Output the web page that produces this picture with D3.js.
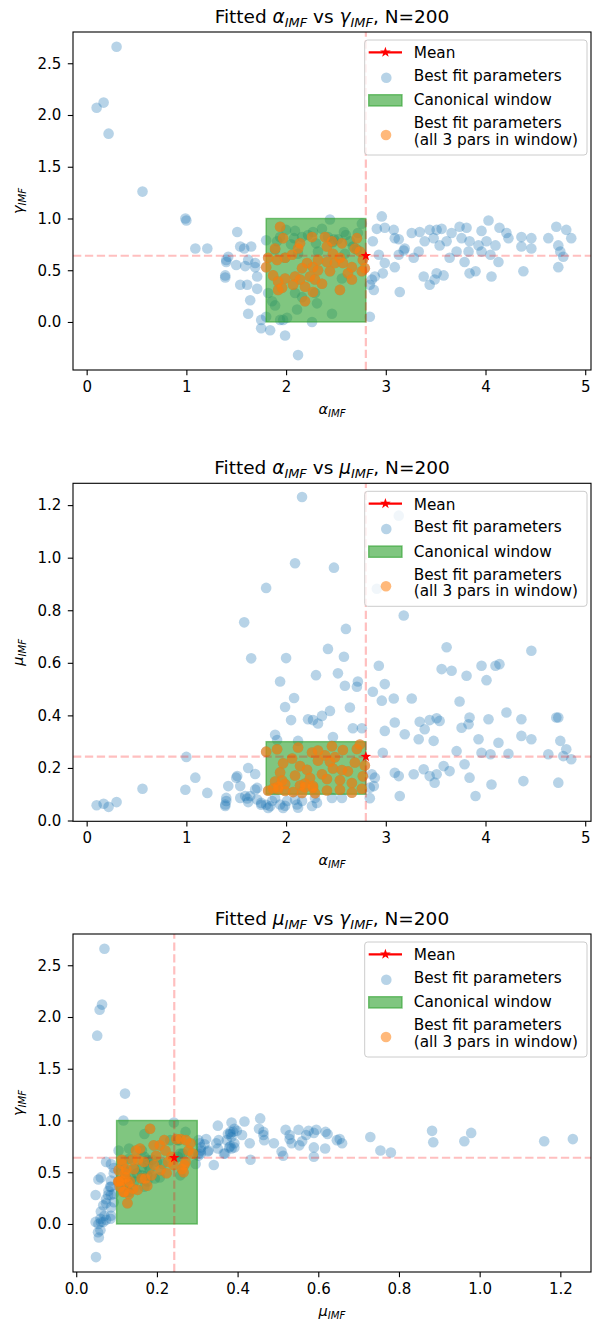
<!DOCTYPE html>
<html>
<head>
<meta charset="utf-8">
<script src="https://cdn.jsdelivr.net/npm/d3@7"></script>
<style>
  body { margin: 0; background: #ffffff; }
  svg { display: block; }
  text { font-family: "DejaVu Sans", sans-serif; fill: #000; }
</style>
</head>
<body>
<svg id="chart" width="592" height="1324"></svg>
<script>
// ---- Fitted IMF parameters, one entry per fit (N = 200) ----
const alphaIMF = [
  // low-alpha fits
  0.10, 0.17, 0.22, 0.30, 0.56, 0.99, 1.00, 1.09, 1.21,
  // alpha 1.4 - 1.8
  1.51, 1.54, 1.58, 1.65, 1.42, 1.40, 1.50, 1.59, 1.69, 1.62,
  1.39, 1.39, 1.71, 1.54, 1.61, 1.71, 1.64, 1.62, 1.75, 1.75,
  1.69, 1.40, 1.80,
  // alpha in window, mu below 0.1
  1.84, 1.99, 2.12, 1.86, 1.89, 1.94, 1.97, 2.11, 2.26, 2.31,
  2.46, 2.29, 2.09, 1.82, 2.16, 2.01, 1.80, 2.56,
  // alpha in window, mu above 0.3
  2.00, 2.42, 2.58, 2.30, 2.52, 1.94, 2.59, 2.72, 2.71, 2.08,
  1.99, 2.64, 2.44, 2.36, 2.05, 2.22, 2.27, 2.32, 2.67, 2.76,
  1.89, 2.47, 2.12, 1.91, 2.16, 2.09, 2.48, 2.60,
  // all three parameters in window
  1.94, 1.97, 1.89, 1.82, 1.80, 1.91, 1.99, 2.06, 1.87, 1.92,
  1.99, 1.92, 1.96, 2.09, 2.14, 2.07, 2.19, 2.12, 2.14, 2.21,
  2.26, 2.27, 2.32, 2.24, 2.29, 2.36, 2.27, 2.19, 2.39, 2.41,
  2.46, 2.47, 2.41, 2.49, 2.54, 2.57, 2.54, 2.62, 2.66, 2.66,
  2.71, 2.69, 2.74, 2.77, 2.76, 2.79, 2.44, 2.32, 2.16, 2.56,
  // alpha above 2.8
  2.84, 2.84, 2.86, 2.88, 2.89, 2.91, 2.93, 2.96, 2.97, 2.99,
  2.99, 2.87, 3.08, 3.09, 3.09, 3.13, 3.14, 3.18, 3.19, 3.13,
  3.26, 3.28, 3.33, 3.34, 3.38, 3.39, 3.44, 3.44, 3.48, 3.49,
  3.51, 3.51, 3.54, 3.56, 3.58, 3.61, 3.64, 3.66, 3.71, 3.74,
  3.76, 3.79, 3.81, 3.83, 3.84, 3.84, 3.90, 3.93, 3.96, 3.96,
  4.01, 4.03, 4.05, 4.06, 4.10, 4.13, 4.14, 4.21, 4.23, 4.36,
  4.36, 4.38, 4.46, 4.46, 4.63, 4.71, 4.73, 4.73, 4.75, 4.78,
  4.81, 4.86
];

const gammaIMF = [
  2.07, 2.12, 1.82, 2.66, 1.26, 1.00, 0.98, 0.71, 0.71,

  0.87, 0.73, 0.71, 0.73, 0.63, 0.58, 0.55, 0.54, 0.53, 0.60,
  0.45, 0.43, 0.44, 0.36, 0.36, 0.32, 0.21, 0.08, 0.02, -0.06,
  0.57, 0.60, 0.79,

  -0.08, -0.13, -0.32, 0.20, 0.16, 0.02, 0.02, 0.12, 0.00, 0.18,
  0.08, 0.28, 0.28, 0.28, 0.24, 0.04, 0.05, 0.42,

  0.89, 0.82, 0.87, 0.76, 0.80, 0.82, 0.66, 0.86, 0.70, 0.81,
  0.62, 0.78, 0.99, 0.90, 0.75, 0.84, 0.87, 0.68, 0.73, 0.95,
  0.70, 0.77, 0.66, 0.78, 0.82, 0.88, 0.80, 0.84,

  0.92, 0.81, 0.71, 0.62, 0.53, 0.60, 0.62, 0.65, 0.45, 0.39,
  0.42, 0.31, 0.33, 0.44, 0.41, 0.36, 0.34, 0.71, 0.76, 0.57,
  0.82, 0.53, 0.60, 0.44, 0.41, 0.37, 0.29, 0.20, 0.82, 0.73,
  0.78, 0.66, 0.58, 0.57, 0.62, 0.57, 0.31, 0.47, 0.53, 0.41,
  0.81, 0.71, 0.68, 0.60, 0.49, 0.52, 0.49, 0.50, 0.52, 0.76,

  0.05, 0.36, 0.41, 0.31, 0.44, 0.90, 0.65, 1.02, 0.47, 0.91,
  0.57, 0.78, 0.89, 0.81, 0.53, 0.65, 0.29, 0.69, 0.71, 0.80,
  0.86, 0.62, 0.68, 0.87, 0.44, 0.78, 0.36, 0.89, 0.81, 0.41,
  0.89, 0.47, 0.74, 0.90, 0.45, 0.78, 0.62, 0.86, 0.68, 0.92,
  0.81, 0.58, 0.91, 0.68, 0.78, 0.47, 0.49, 0.74, 0.88, 0.68,
  0.78, 0.98, 0.65, 0.44, 0.74, 0.58, 0.91, 0.86, 0.81, 0.73,
  0.82, 0.49, 0.81, 0.71, 0.81, 0.92, 0.74, 0.53, 0.68, 0.63,
  0.89, 0.81
];

const muIMF = [
  0.058, 0.064, 0.052, 0.070, 0.121, 0.117, 0.242, 0.163, 0.105,

  0.169, 0.131, 0.754, 0.617, 0.131, 0.086, 0.163, 0.093, 0.118, 0.200,
  0.061, 0.055, 0.124, 0.086, 0.084, 0.080, 0.093, 0.070, 0.067, 0.060,
  0.177, 0.074, 0.885,

  0.054, 0.056, 0.049, 0.074, 0.086, 0.061, 0.048, 0.061, 0.055, 0.067,
  0.086, 0.086, 0.079, 0.048, 0.074, 0.074, 0.060, 0.086,

  0.618, 0.653, 0.623, 0.553, 0.560, 0.529, 0.513, 0.529, 0.509, 0.466,
  0.432, 0.430, 0.417, 0.398, 0.382, 0.385, 0.382, 0.369, 0.351, 0.351,
  0.326, 0.318, 0.303, 0.306, 1.231, 0.979, 0.962, 0.729,

  0.183, 0.218, 0.148, 0.113, 0.262, 0.271, 0.139, 0.236, 0.122, 0.128,
  0.112, 0.119, 0.152, 0.171, 0.133, 0.108, 0.141, 0.278, 0.207, 0.193,
  0.259, 0.124, 0.228, 0.162, 0.104, 0.176, 0.131, 0.127, 0.248, 0.158,
  0.283, 0.198, 0.114, 0.241, 0.153, 0.268, 0.117, 0.187, 0.143, 0.106,
  0.272, 0.221, 0.289, 0.168, 0.121, 0.209, 0.224, 0.266, 0.105, 0.192,

  0.085, 0.125, 0.176, 0.131, 0.163, 0.882, 0.589, 0.456, 0.258, 0.519,
  0.341, 0.490, 0.464, 0.373, 0.182, 0.169, 0.093, 0.780, 0.328, 1.160,
  0.464, 0.176, 0.309, 0.376, 0.195, 0.347, 0.169, 0.382, 0.303, 0.144,
  0.389, 0.176, 0.379, 0.576, 0.207, 0.659, 0.188, 0.570, 0.264, 0.453,
  0.353, 0.214, 0.551, 0.366, 0.392, 0.163, 0.093, 0.309, 0.589, 0.258,
  0.534, 0.385, 0.252, 0.137, 0.589, 0.296, 0.595, 0.411, 0.254, 0.385,
  0.322, 0.150, 0.646, 0.309, 0.252, 0.392, 0.392, 0.144, 0.303, 0.245,
  0.271, 0.233
];

// Mean of the fits and the canonical parameter window
const meanAlpha = 2.80, meanGamma = 0.64, meanMu = 0.243;
const windowAlpha = [1.8, 2.8];
const windowGamma = [0.0, 1.0];
const windowMu = [0.1, 0.3];

// Axis limits and ticks
const alphaLimits = [-0.137, 5.058];
const gammaLimits = [-0.464, 2.802];
const muLimitsY = [-0.003, 1.283];
const muLimitsX = [-0.008, 1.276];
const alphaTicks = [0, 1, 2, 3, 4, 5];
const gammaTicks = [0.0, 0.5, 1.0, 1.5, 2.0, 2.5];
const muTicks = [0.0, 0.2, 0.4, 0.6, 0.8, 1.0, 1.2];

const sampleSize = 200;
const legendLabels = ["Mean", "Best fit parameters", "Canonical window",
                      "Best fit parameters", "(all 3 pars in window)"];

// ---- drawing ----
const svg = d3.select("#chart");
const C_BLUE = "#1f77b4", C_ORANGE = "#ff7f0e", C_GREEN = "#2ca02c";
const AX = { left: 73, right: 591, h: 338 };
const R_PT = 5.3;

const inWindow = d3.range(alphaIMF.length).filter(i =>
  alphaIMF[i] >= windowAlpha[0] && alphaIMF[i] <= windowAlpha[1] &&
  gammaIMF[i] >= windowGamma[0] && gammaIMF[i] <= windowGamma[1] &&
  muIMF[i] >= windowMu[0] && muIMF[i] <= windowMu[1]);

function starPath(R, r) {
  const pts = d3.range(10).map(k => {
    const a = -Math.PI / 2 + k * Math.PI / 5;
    const rad = k % 2 === 0 ? R : r;
    return [rad * Math.cos(a), rad * Math.sin(a)];
  });
  return "M" + pts.map(p => p[0].toFixed(2) + "," + p[1].toFixed(2)).join("L") + "Z";
}

// math-style label: roman text, italic symbols, italic subscripts
function mathText(sel, parts, size) {
  let down = false;
  parts.forEach(([t, kind]) => {
    const ts = sel.append("tspan").text(t);
    if (kind === "sub") {
      ts.attr("font-size", (size * 0.7).toFixed(2)).attr("font-style", "italic");
      if (!down) { ts.attr("dy", (size * 0.22).toFixed(2)); down = true; }
    } else {
      if (down) { ts.attr("dy", (-size * 0.22).toFixed(2)); down = false; }
      if (kind === "it") ts.attr("font-style", "italic");
    }
  });
}

const panels = [
  { top: 32, xv: alphaIMF, yv: gammaIMF, xDom: alphaLimits, yDom: gammaLimits,
    xTicks: alphaTicks, yTicks: gammaTicks, xFmt: d3.format("d"), yFmt: d3.format(".1f"),
    xSym: "α", ySym: "γ", xWin: windowAlpha, yWin: windowGamma, xMean: meanAlpha, yMean: meanGamma },
  { top: 483.3, xv: alphaIMF, yv: muIMF, xDom: alphaLimits, yDom: muLimitsY,
    xTicks: alphaTicks, yTicks: muTicks, xFmt: d3.format("d"), yFmt: d3.format(".1f"),
    xSym: "α", ySym: "μ", xWin: windowAlpha, yWin: windowMu, xMean: meanAlpha, yMean: meanMu },
  { top: 934, xv: muIMF, yv: gammaIMF, xDom: muLimitsX, yDom: gammaLimits,
    xTicks: muTicks, yTicks: gammaTicks, xFmt: d3.format(".1f"), yFmt: d3.format(".1f"),
    xSym: "μ", ySym: "γ", xWin: windowMu, yWin: windowGamma, xMean: meanMu, yMean: meanGamma }
];

panels.forEach((p, pi) => {
  const top = p.top, bottom = top + AX.h;
  const x = d3.scaleLinear().domain(p.xDom).range([AX.left, AX.right]);
  const y = d3.scaleLinear().domain(p.yDom).range([bottom, top]);
  const g = svg.append("g");

  const clipId = "clip" + pi;
  svg.append("clipPath").attr("id", clipId)
    .append("rect").attr("x", AX.left).attr("y", top)
    .attr("width", AX.right - AX.left).attr("height", AX.h);
  const plot = g.append("g").attr("clip-path", `url(#${clipId})`);

  // every fit
  plot.append("g").selectAll("circle").data(d3.range(p.xv.length)).join("circle")
    .attr("cx", i => x(p.xv[i])).attr("cy", i => y(p.yv[i])).attr("r", R_PT)
    .attr("fill", C_BLUE).attr("fill-opacity", 0.32);

  // canonical window
  plot.append("rect")
    .attr("x", x(p.xWin[0])).attr("y", y(p.yWin[1]))
    .attr("width", x(p.xWin[1]) - x(p.xWin[0]))
    .attr("height", y(p.yWin[0]) - y(p.yWin[1]))
    .attr("fill", C_GREEN).attr("fill-opacity", 0.6)
    .attr("stroke", C_GREEN).attr("stroke-opacity", 0.6).attr("stroke-width", 1.4);

  // fits with all three parameters inside the window
  plot.append("g").selectAll("circle").data(inWindow).join("circle")
    .attr("cx", i => x(p.xv[i])).attr("cy", i => y(p.yv[i])).attr("r", R_PT)
    .attr("fill", C_ORANGE).attr("fill-opacity", 0.65);

  // mean guide lines
  const dash = { stroke: "red", "stroke-opacity": 0.25, "stroke-width": 2.2, "stroke-dasharray": "8.3,3.6" };
  const vl = plot.append("line").attr("x1", x(p.xMean)).attr("x2", x(p.xMean)).attr("y1", bottom).attr("y2", top);
  const hl = plot.append("line").attr("x1", AX.left).attr("x2", AX.right).attr("y1", y(p.yMean)).attr("y2", y(p.yMean));
  [vl, hl].forEach(l => Object.entries(dash).forEach(([k, v]) => l.attr(k, v)));

  plot.append("path").attr("d", starPath(5.6, 2.2))
    .attr("transform", `translate(${x(p.xMean)},${y(p.yMean)})`).attr("fill", "red");

  // axes
  const xAxis = g.append("g").attr("transform", `translate(0,${bottom})`)
    .call(d3.axisBottom(x).tickValues(p.xTicks).tickFormat(p.xFmt).tickSize(5.2).tickPadding(6));
  const yAxis = g.append("g").attr("transform", `translate(${AX.left},0)`)
    .call(d3.axisLeft(y).tickValues(p.yTicks).tickFormat(p.yFmt).tickSize(5.2).tickPadding(6.5));
  [xAxis, yAxis].forEach(a => {
    a.select(".domain").remove();
    a.attr("font-family", null).attr("font-size", null);
    a.selectAll(".tick line").attr("stroke", "#000").attr("stroke-width", 1.1);
    a.selectAll(".tick text").attr("font-size", 15).attr("fill", "#000");
  });

  g.append("rect").attr("x", AX.left).attr("y", top)
    .attr("width", AX.right - AX.left).attr("height", AX.h)
    .attr("fill", "none").attr("stroke", "#000").attr("stroke-width", 1.1);

  // title
  const title = g.append("text").attr("x", (AX.left + AX.right) / 2).attr("y", top - 9.5)
    .attr("text-anchor", "middle").attr("font-size", 18.5);
  mathText(title, [["Fitted ", "rm"], [p.xSym, "it"], ["IMF", "sub"], [" vs ", "rm"],
                   [p.ySym, "it"], ["IMF", "sub"], [`, N=${sampleSize}`, "rm"]], 18.5);

  // axis labels
  const xl = g.append("text").attr("x", (AX.left + AX.right) / 2).attr("y", bottom + 44)
    .attr("text-anchor", "middle").attr("font-size", 14.5);
  mathText(xl, [[p.xSym, "it"], ["IMF", "sub"]], 14.5);
  const yl = g.append("text").attr("transform", `translate(23,${top + AX.h / 2}) rotate(-90)`)
    .attr("text-anchor", "middle").attr("font-size", 14.5);
  mathText(yl, [[p.ySym, "it"], ["IMF", "sub"]], 14.5);

  // legend
  const lg = g.append("g").attr("transform", `translate(364.7,${top + 8})`);
  lg.append("rect").attr("width", 222.3).attr("height", 115).attr("rx", 3)
    .attr("fill", "#fff").attr("fill-opacity", 0.8)
    .attr("stroke", "#cccccc").attr("stroke-width", 1);
  lg.append("line").attr("x1", 4).attr("x2", 37.3).attr("y1", 12.3).attr("y2", 12.3)
    .attr("stroke", "red").attr("stroke-width", 2.2);
  lg.append("path").attr("d", starPath(5.6, 2.2)).attr("transform", "translate(20.7,12.3)").attr("fill", "red");
  lg.append("circle").attr("cx", 21.6).attr("cy", 37.7).attr("r", R_PT)
    .attr("fill", C_BLUE).attr("fill-opacity", 0.32);
  lg.append("rect").attr("x", 4).attr("y", 54.7).attr("width", 33.3).attr("height", 11.3)
    .attr("fill", C_GREEN).attr("fill-opacity", 0.6)
    .attr("stroke", C_GREEN).attr("stroke-opacity", 0.6).attr("stroke-width", 1.4);
  lg.append("circle").attr("cx", 21.3).attr("cy", 95).attr("r", R_PT)
    .attr("fill", C_ORANGE).attr("fill-opacity", 0.55);
  const baselines = [18.3, 41, 65.3, 88.3, 105];
  legendLabels.forEach((t, k) => {
    lg.append("text").attr("x", 49).attr("y", baselines[k]).attr("font-size", 15.3).text(t);
  });
});
</script>
</body>
</html>
